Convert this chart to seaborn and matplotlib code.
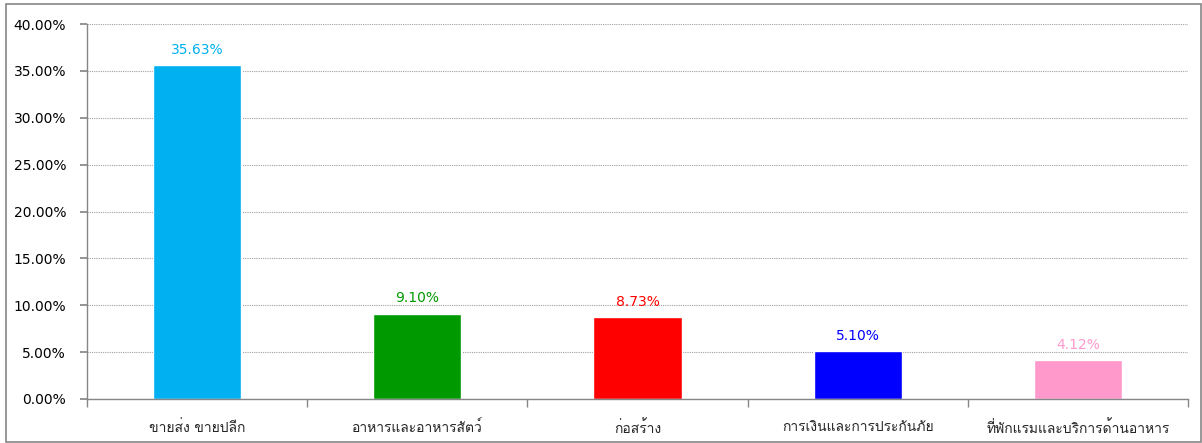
import matplotlib
matplotlib.use("Agg")
import matplotlib.pyplot as plt
import matplotlib.font_manager as fm
import seaborn as sns
import pandas as pd
from matplotlib.ticker import FuncFormatter, FixedLocator

# ---- data ----
categories = ["ขายส่ง ขายปลีก", "อาหารและอาหารสัตว์", "ก่อสร้าง",
              "การเงินและการประกันภัย", "ที่พักแรมและบริการด้านอาหาร"]
values = [35.63, 9.10, 8.73, 5.10, 4.12]
colors = ["#00B0F0", "#009900", "#FF0000", "#0000FF", "#FF99CC"]
value_labels = ["35.63%", "9.10%", "8.73%", "5.10%", "4.12%"]
y_ticks = [0, 5, 10, 15, 20, 25, 30, 35, 40]

sns.set_theme(style="white")
installed = {f.name for f in fm.fontManager.ttflist}
thai = [f for f in ["Loma", "Tlwg Typo", "Garuda", "Norasi", "FreeSerif"] if f in installed]
plt.rcParams["font.family"] = ["DejaVu Sans"] + thai

df = pd.DataFrame({"cat": categories, "val": values})

fig = plt.figure(figsize=(12.02, 4.43), dpi=100)
ax = fig.add_axes([87/1202, 44/443, 1101/1202, 375/443])

sns.barplot(data=df, x="cat", y="val", hue="cat", palette=colors,
            width=0.4, dodge=False, legend=False, ax=ax, saturation=1)

ax.set_xlim(-0.5, len(categories) - 0.5)
ax.set_ylim(0, 40)
ax.yaxis.set_major_locator(FixedLocator(y_ticks))
ax.yaxis.set_major_formatter(FuncFormatter(lambda v, p: f"{v:.2f}%"))
ax.grid(axis="y", color="#a0a0a0", linestyle=(0, (1, 1)), linewidth=0.8)
ax.set_axisbelow(True)
ax.set_xlabel("")
ax.set_ylabel("")

for s in ["top", "right"]:
    ax.spines[s].set_visible(False)
for s in ["left", "bottom"]:
    ax.spines[s].set_color("#868686")
    ax.spines[s].set_linewidth(1.0)

ax.tick_params(axis="y", which="major", left=True, length=5, color="#868686",
               labelsize=10, colors="#000000", pad=10)
ax.tick_params(axis="y", which="major", color="#868686")
ax.tick_params(axis="x", which="major", bottom=False, labelsize=10, pad=9)
ax.set_xticks(range(len(categories)))
ax.set_xticklabels(categories)
ax.set_xticks([i - 0.5 for i in range(len(categories) + 1)], minor=True)
ax.tick_params(axis="x", which="minor", bottom=True, length=6, color="#868686")

for i, (v, lab, c) in enumerate(zip(values, value_labels, colors)):
    ax.annotate(lab, (i, v), xytext=(0, 6), textcoords="offset points",
                ha="center", va="bottom", color=c, fontsize=10)

# outer chart border
border = plt.Rectangle((6/1202, 1/443), 1195/1202, 438/443, transform=fig.transFigure,
                       fill=False, edgecolor="#868686", linewidth=1.2)
fig.patches.append(border)

fig.savefig("out.png", dpi=100)
